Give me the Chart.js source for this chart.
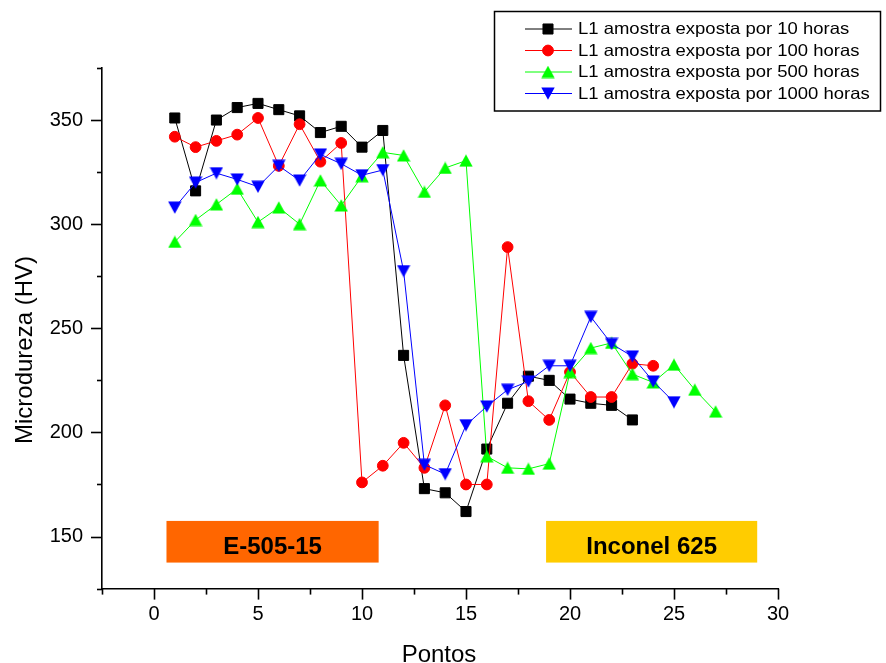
<!DOCTYPE html>
<html>
<head>
<meta charset="utf-8">
<script src="https://cdn.jsdelivr.net/npm/chart.js@4.4.1/dist/chart.umd.min.js"></script>
<style>
html,body{margin:0;padding:0;background:#fff;}
canvas{display:block;}
</style>
</head>
<body>
<canvas id="c" width="886" height="663"></canvas>
<script>
// ---- data ----
const pontos = [1,2,3,4,5,6,7,8,9,10,11,12,13,14,15,16,17,18,19,20,21,22,23,24,25,26,27];
const seriesNames = [
  'L1 amostra exposta por 10 horas',
  'L1 amostra exposta por 100 horas',
  'L1 amostra exposta por 500 horas',
  'L1 amostra exposta por 1000 horas'
];
const horas10   = [351, 316, 350, 356, 358, 355, 352, 344, 347, 337, 345, 237, 173, 171, 162, 192, 214, 227, 225, 216, 214, 213, 206];
const horas100  = [342, 337, 340, 343, 351, 328, 348, 330, 339, 176, 184, 195, 183, 213, 175, 175, 289, 215, 206, 229, 217, 217, 233, 232];
const horas500  = [291.5, 302, 309.5, 317, 301, 308, 300, 321, 309, 323, 334.5, 333, 315.5, 327, 330.5, 188.5, 183, 182.5, 185, 229, 240.5, 243, 228, 224, 232.5, 220.5, 210];
const horas1000 = [308, 320, 324.5, 321.5, 318, 328, 321, 333.5, 329, 323.5, 326, 277.5, 184.5, 180, 203.5, 212.5, 220.5, 224.5, 232, 232, 255.5, 242.5, 236.5, 224.5, 214.5];

const xLabelValues = [0, 5, 10, 15, 20, 25, 30];
const yLabelValues = [150, 200, 250, 300, 350];

// region boxes (data coordinates)
const regionLabels = ['E-505-15', 'Inconel 625'];
const regionFrom   = [0.6, 18.85];
const regionTo     = [10.8, 29.0];
const regionLow    = [137.5, 137.5];
const regionHigh   = [157.5, 157.5];

const FONT = '"Liberation Sans", Arial, Helvetica, sans-serif';
const regionColors = ['#FF6600', '#FFCC00'];

function toPoints(vals) { return vals.map((v, i) => ({x: pontos[i], y: v})); }

// centred triangle markers (bounding box centred on the point)
function triangleImage(color, down) {
  const w = 14, h = 13;
  const cv = document.createElement('canvas');
  cv.width = w; cv.height = h;
  const c = cv.getContext('2d');
  c.fillStyle = color;
  c.beginPath();
  if (down) {
    c.moveTo(0.3, 0.5); c.lineTo(w - 0.3, 0.5); c.lineTo(w / 2, h - 0.3);
  } else {
    c.moveTo(0.3, h - 0.5); c.lineTo(w - 0.3, h - 0.5); c.lineTo(w / 2, 0.3);
  }
  c.closePath();
  c.fill();
  return cv;
}

const styles = [
  {color: '#000000', pointStyle: 'rect', radius: 7.1, rotation: 0},
  {color: '#FF0000', pointStyle: 'circle', radius: 5.4, rotation: 0},
  {color: '#00FF00', pointStyle: triangleImage('#00FF00', false), radius: 7.6, rotation: 0},
  {color: '#0000FF', pointStyle: triangleImage('#0000FF', true), radius: 7.6, rotation: 0}
];
const allSeries = [horas10, horas100, horas500, horas1000];

const datasets = allSeries.map((vals, i) => ({
  label: seriesNames[i],
  data: toPoints(vals),
  borderColor: styles[i].color,
  backgroundColor: styles[i].color,
  borderWidth: 1,
  pointStyle: styles[i].pointStyle,
  pointRadius: styles[i].radius,
  pointRotation: styles[i].rotation,
  pointBorderWidth: 1,
  pointBorderColor: styles[i].color,
  pointBackgroundColor: styles[i].color,
  showLine: true,
  fill: false,
  tension: 0,
  order: 3 - i
}));

function drawMarker(ctx, st, x, y) {
  ctx.save();
  ctx.fillStyle = st.color;
  ctx.strokeStyle = st.color;
  ctx.lineWidth = 1;
  if (Chart.helpers && Chart.helpers.drawPoint) {
    Chart.helpers.drawPoint(ctx, {pointStyle: st.pointStyle, radius: st.radius, rotation: st.rotation, borderWidth: 1}, x, y);
  }
  ctx.restore();
}

const customDraw = {
  id: 'customDraw',
  beforeDatasetsDraw(chart) {
    const {ctx, scales: {x, y}} = chart;
    regionLabels.forEach((lab, i) => {
      const x0 = x.getPixelForValue(regionFrom[i]);
      const x1 = x.getPixelForValue(regionTo[i]);
      const y0 = y.getPixelForValue(regionHigh[i]);
      const y1 = y.getPixelForValue(regionLow[i]);
      ctx.save();
      ctx.fillStyle = regionColors[i];
      ctx.fillRect(x0, y0, x1 - x0, y1 - y0);
      ctx.fillStyle = '#000';
      ctx.font = 'bold 24px ' + FONT;
      ctx.textAlign = 'center';
      ctx.textBaseline = 'alphabetic';
      ctx.fillText(lab, (x0 + x1) / 2, y1 - 8.7);
      ctx.restore();
    });
  },
  afterDraw(chart) {
    const {ctx, chartArea, scales: {x, y}} = chart;
    ctx.save();
    ctx.strokeStyle = '#000';
    ctx.lineWidth = 1.6;
    // y ticks
    y.ticks.forEach(t => {
      const v = t.value;
      const len = (Math.abs(v % 50) < 1e-6) ? 11 : 5;
      const py = Math.round(y.getPixelForValue(v)) + 0.5;
      ctx.beginPath();
      ctx.moveTo(chartArea.left - len, py);
      ctx.lineTo(chartArea.left, py);
      ctx.stroke();
    });
    // x ticks
    x.ticks.forEach(t => {
      const v = t.value;
      const len = (Math.abs(v % 5) < 1e-6) ? 11 : 6;
      const px = Math.round(x.getPixelForValue(v)) + 0.5;
      ctx.beginPath();
      ctx.moveTo(px, chartArea.bottom);
      ctx.lineTo(px, chartArea.bottom + len);
      ctx.stroke();
    });
    ctx.restore();

    // axis titles
    ctx.save();
    ctx.fillStyle = '#000';
    ctx.font = '24px ' + FONT;
    ctx.textAlign = 'center';
    ctx.textBaseline = 'alphabetic';
    ctx.fillText('Pontos', (chartArea.left + chartArea.right) / 2 - 1, 661.5);
    ctx.translate(31.5, 350);
    ctx.rotate(-Math.PI / 2);
    ctx.fillText('Microdureza (HV)', 0, 0);
    ctx.restore();

    // legend box
    ctx.save();
    ctx.strokeStyle = '#000';
    ctx.lineWidth = 1.5;
    ctx.strokeRect(494.5, 11.5, 386, 99.5);
    const rows = [29, 50.5, 72, 93.5];
    seriesNames.forEach((name, i) => {
      const ry = rows[i];
      ctx.strokeStyle = styles[i].color;
      ctx.lineWidth = 1;
      ctx.beginPath();
      ctx.moveTo(525, ry);
      ctx.lineTo(572, ry);
      ctx.stroke();
      drawMarker(ctx, styles[i], 548, ry);
      ctx.save();
      ctx.fillStyle = '#000';
      ctx.font = '16.5px ' + FONT;
      ctx.textAlign = 'left';
      ctx.textBaseline = 'middle';
      ctx.translate(578, ry + 0.5);
      ctx.scale(1.12, 1);
      ctx.fillText(name, 0, 0);
      ctx.restore();
    });
    ctx.restore();
  }
};

new Chart(document.getElementById('c'), {
  type: 'scatter',
  data: {datasets},
  options: {
    responsive: false,
    animation: false,
    layout: {padding: {top: 68, right: 108, left: 0, bottom: 0}},
    plugins: {legend: {display: false}, tooltip: {enabled: false}},
    scales: {
      x: {
        type: 'linear',
        min: -2.5,
        max: 30,
        afterFit(scale) { scale.height = 74.4; },
        ticks: {
          stepSize: 2.5,
          autoSkip: false,
          maxRotation: 0,
          padding: 3,
          color: '#000',
          font: {family: FONT, size: 20},
          callback: (v) => xLabelValues.includes(v) ? String(v) : ''
        },
        grid: {display: true, drawOnChartArea: false, drawTicks: true, tickLength: 11, tickColor: 'rgba(0,0,0,0)'},
        border: {display: true, color: '#000', width: 1.6}
      },
      y: {
        type: 'linear',
        min: 125,
        max: 375,
        afterFit(scale) { scale.width = 102; },
        ticks: {
          stepSize: 25,
          autoSkip: false,
          padding: 8,
          color: '#000',
          font: {family: FONT, size: 20},
          callback: (v) => yLabelValues.includes(v) ? String(v) : ''
        },
        grid: {display: true, drawOnChartArea: false, drawTicks: true, tickLength: 11, tickColor: 'rgba(0,0,0,0)'},
        border: {display: true, color: '#000', width: 1.6}
      }
    }
  },
  plugins: [customDraw]
});
</script>
</body>
</html>
